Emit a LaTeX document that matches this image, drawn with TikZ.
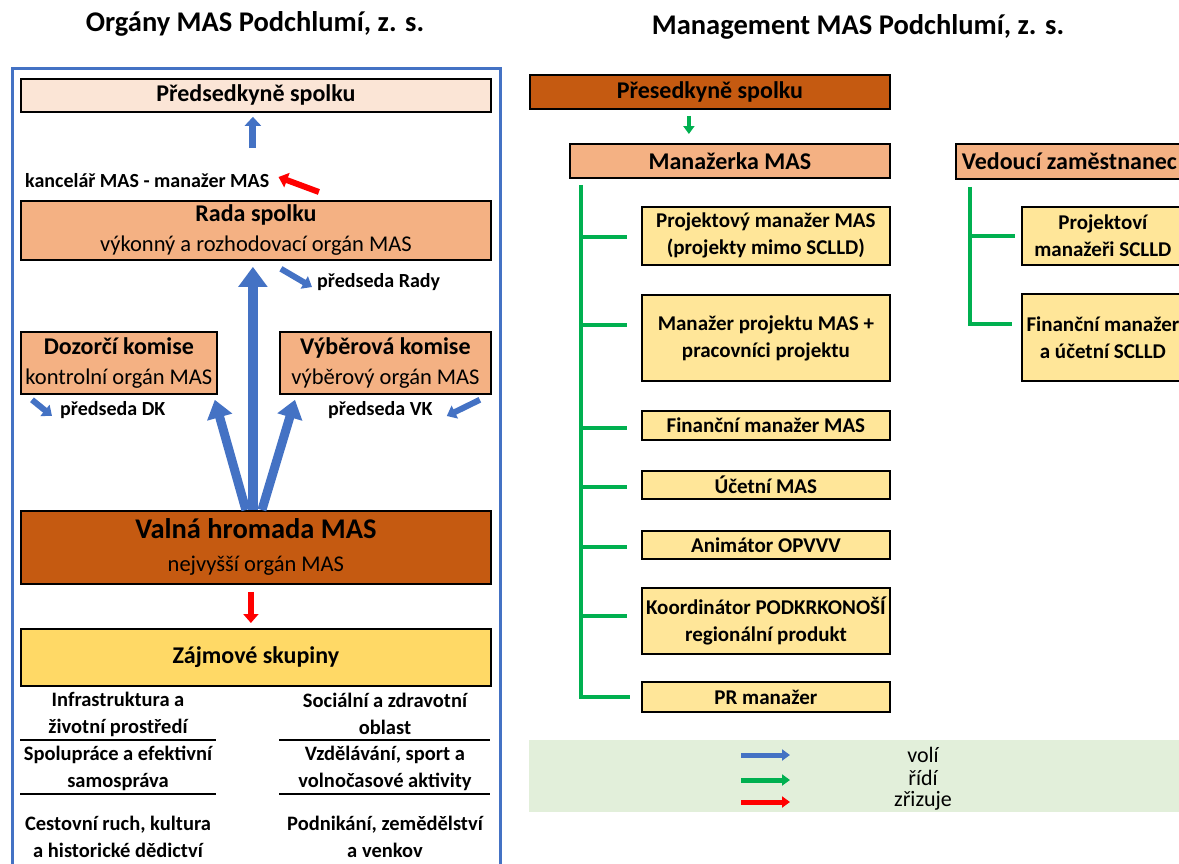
\documentclass[tikz,border=0pt]{standalone}
\usepackage{fontspec}
\setmainfont{Carlito}
\usetikzlibrary{arrows.meta,positioning,calc}
\definecolor{frameblue}{HTML}{4472C4}
\definecolor{paleorange}{HTML}{FBE5D6}
\definecolor{midorange}{HTML}{F4B183}
\definecolor{darkorange}{HTML}{C55A11}
\definecolor{paleyellow}{HTML}{FFE699}
\definecolor{goldyellow}{HTML}{FFD966}
\definecolor{legendgreen}{HTML}{E2EFDA}
\definecolor{leadgreen}{HTML}{00B050}
\definecolor{vivred}{HTML}{FF0000}
\newcommand\ttlfont{\fontsize{28.5}{32}\selectfont\bfseries}
\newcommand\hdfont{\fontsize{24}{30}\selectfont\bfseries}
\newcommand\rgfont{\fontsize{22.5}{30}\selectfont\mdseries}
\newcommand\lblfont{\fontsize{20}{27}\selectfont\bfseries}
\newcommand\subfont{\fontsize{21}{27}\selectfont\bfseries}
\newcommand\grpfont{\fontsize{20.5}{27}\selectfont\bfseries}
\newcommand\lgdfont{\fontsize{22}{24}\selectfont\mdseries}
\begin{document}
\begin{tikzpicture}[x=1pt,y=-1pt,
  box/.style={draw=black,line width=1.8pt,anchor=north west,align=center,inner sep=0pt,font=\hdfont},
  subbox/.style={box,fill=paleyellow,font=\subfont,minimum width=248},
  lbl/.style={font=\lblfont,inner sep=0pt},
  grp/.style={font=\grpfont,align=center,inner sep=0pt},
  volarrow/.style={draw=frameblue,line width=7pt,-{Triangle[length=9pt,width=16pt]}},
  bigarrow/.style={draw=frameblue,line width=10pt,-{Triangle[length=20pt,width=28pt]}},
  redarrow/.style={draw=vivred,line width=6pt,-{Triangle[length=9pt,width=15pt]}},
  greenarrow/.style={draw=leadgreen,line width=4pt,-{Triangle[length=8pt,width=11pt]}},
  tree/.style={draw=leadgreen,line width=4pt},
  sepline/.style={draw=black,line width=1.3pt}]
\useasboundingbox (0,0) rectangle (1179,863);

% titles
\node[font=\ttlfont] (titleL) at (255,24) {Orgány MAS Podchlumí, z. s.};
\node[font=\ttlfont] (titleR) at (858,27) {Management MAS Podchlumí, z. s.};

% left part: organs
\draw[frameblue,line width=3pt] (12,900) -- (12,68) -- (500,68) -- (500,900);
\node[box,fill=paleorange,minimum width=470,minimum height=33] (predsedkyne) at (20,78) {Předsedkyně spolku};
\node[box,fill=midorange,minimum width=470,minimum height=59] (rada) at (20,200)
  {Rada spolku\\{\rgfont výkonný a rozhodovací orgán MAS}};
\node[box,fill=midorange,minimum width=196,minimum height=62] (dozorci) at (20,331)
  {Dozorčí komise\\{\rgfont kontrolní orgán MAS}};
\node[box,fill=midorange,minimum width=211,minimum height=62] (vyberova) at (279,331)
  {Výběrová komise\\{\rgfont výběrový orgán MAS}};
\node[box,fill=darkorange,minimum width=470,minimum height=73] (valna) at (20,510)
  {{\fontsize{28.5}{30}\selectfont Valná hromada MAS}\\[3pt]{\rgfont nejvyšší orgán MAS}};
\node[box,fill=goldyellow,minimum width=470,minimum height=57] (zajmove) at (20,628) {Zájmové skupiny};

\node[lbl,anchor=west] (kancelar) at (25,181) {kancelář MAS - manažer MAS};
\node[lbl,anchor=west] (predrady) at (317,282) {předseda Rady};
\node[lbl,anchor=west] (predDK) at (60,410) {předseda DK};
\node[lbl,anchor=west] (predVK) at (328,410) {předseda VK};

\draw[volarrow,shorten <=52pt,shorten >=4pt] ([xshift=-3pt]rada.north) -- ([xshift=-3pt]predsedkyne.south);
\draw[redarrow] ($(rada.north)+(63,-8)$) -- ($(kancelar.east)+(9,-4)$);
\draw[bigarrow,shorten >=6pt] ([xshift=-3pt]valna.north) -- ([xshift=-3pt]rada.south);
\draw[bigarrow,line width=9pt,-{Triangle[length=18pt,width=25pt]}] ([xshift=-10pt]valna.north) -- ($(dozorci.south east)+(-3,5)$);
\draw[bigarrow,line width=9pt,-{Triangle[length=18pt,width=25pt]}] ([xshift=6pt]valna.north) -- ($(vyberova.south west)+(16,5)$);
\draw[volarrow,line width=6pt,-{Triangle[length=9pt,width=14pt]}] ($(rada.south)+(25,8)$) -- ($(predrady.west)+(-5,5)$);
\draw[volarrow,line width=6pt,-{Triangle[length=9pt,width=14pt]}] ($(dozorci.south west)+(12,5)$) -- ($(predDK.west)+(-8,6)$);
\draw[volarrow,line width=6pt,-{Triangle[length=9pt,width=14pt]}] ($(vyberova.south east)+(-12,5)$) -- ($(predVK.east)+(14,6)$);
\draw[redarrow,shorten <=7pt,shorten >=5pt] ([xshift=-5pt]valna.south) -- ([xshift=-5pt]zajmove.north);

% interest groups
\node[grp] (g1) at (118,714) {Infrastruktura a\\životní prostředí};
\node[grp] (g2) at (385,714) {Sociální a zdravotní\\oblast};
\node[grp] (g3) at (118,768) {Spolupráce a efektivní\\samospráva};
\node[grp] (g4) at (385,768) {Vzdělávání, sport a\\volnočasové aktivity};
\node[grp] (g5) at (118,837) {Cestovní ruch, kultura\\a historické dědictví};
\node[grp] (g6) at (385,837) {Podnikání, zemědělství\\a venkov};
\foreach \yy in {740,794} {
  \draw[sepline] (20,\yy) -- (216,\yy);
  \draw[sepline] (279,\yy) -- (490,\yy);
}

% right part: management
\node[box,fill=darkorange,minimum width=360,minimum height=34] (predsedkyneM) at (529,74) {Přesedkyně spolku};
\node[box,fill=midorange,minimum width=320,minimum height=34] (manazerka) at (569,143) {Manažerka MAS};
\node[box,fill=midorange,minimum width=240,minimum height=35] (vedouci) at (955,143) {\makebox[228pt][l]{Vedoucí zaměstnanec}};
\draw[greenarrow,shorten <=6pt,shorten >=9pt] ([xshift=-21pt]predsedkyneM.south) -- ([xshift=-21pt]predsedkyneM.south |- manazerka.north);

\node[subbox,minimum height=58] (projmimo) at (641,206) {Projektový manažer MAS\\(projekty mimo SCLLD)};
\node[subbox,minimum height=86] (projmas) at (641,294) {Manažer projektu MAS +\\pracovníci projektu};
\node[subbox,minimum height=29] (finman) at (641,410) {Finanční manažer MAS};
\node[subbox,minimum height=28] (ucetni) at (641,470) {Účetní MAS};
\node[subbox,minimum height=28] (animator) at (641,530) {Animátor OPVVV};
\node[subbox,minimum height=66] (koord) at (641,587) {Koordinátor PODKRKONOŠÍ\\regionální produkt};
\node[subbox,minimum height=30] (prman) at (641,681) {PR manažer};

\node[subbox,minimum width=162,minimum height=58] (projsclld) at (1021,206) {Projektoví\\manažeři SCLLD};
\node[subbox,minimum width=162,minimum height=87] (finsclld) at (1021,293) {Finanční manažer\\a účetní SCLLD};

\coordinate (trunkM) at ($(manazerka.south west)+(12,6)$);
\draw[tree] (trunkM) |- ($(prman.west)+(-11,0)$);
\foreach \bx/\dy in {projmimo/1,projmas/-13,finman/3,ucetni/2,animator/2,koord/-5}
  \draw[tree] (trunkM |- {$(\bx.west)+(0,\dy)$}) -- ($(\bx.west)+(-14,\dy)$);
\coordinate (trunkV) at ($(vedouci.south west)+(15,7)$);
\draw[tree] (trunkV) |- ($(finsclld.west)+(-9,-13)$);
\draw[tree] (trunkV |- projsclld.west) -- ($(projsclld.west)+(-6,0)$);

% legend
\node[fill=legendgreen,anchor=north west,minimum width=660,minimum height=72,inner sep=0pt] (legend) at (529,740) {};
\node[font=\lgdfont] (voli) at (923,755) {volí};
\node[font=\lgdfont] (ridi) at (923,778) {řídí};
\node[font=\lgdfont] (zrizuje) at (923,801) {zřizuje};
\coordinate (lgA) at (741,755);
\coordinate (lgB) at (741,780);
\coordinate (lgC) at (741,802);
\draw[volarrow,line width=5pt,-{Triangle[length=8pt,width=11pt]}] (lgA) -- ++(49,0);
\draw[greenarrow,line width=5pt,-{Triangle[length=8pt,width=11pt]}] (lgB) -- ++(49,0);
\draw[redarrow,line width=5pt,-{Triangle[length=8pt,width=11pt]}] (lgC) -- ++(49,0);
\end{tikzpicture}
\end{document}
